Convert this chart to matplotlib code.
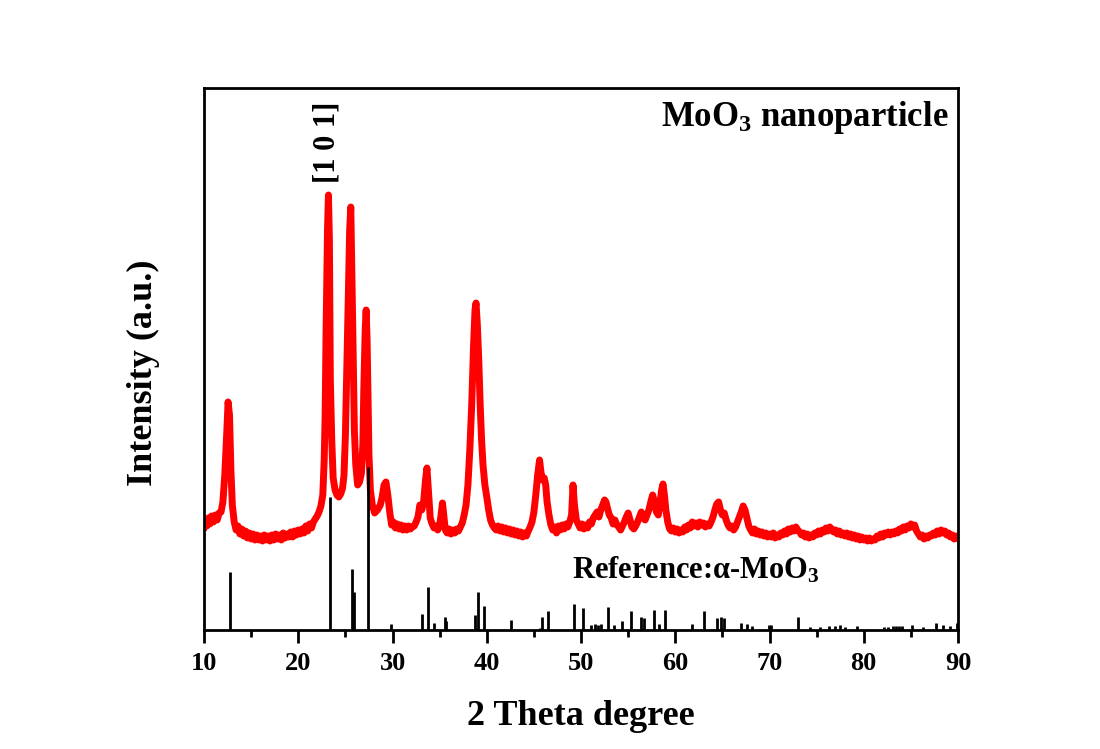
import matplotlib
matplotlib.use("Agg")
import matplotlib.pyplot as plt
from matplotlib.ticker import MultipleLocator

plt.rcParams['font.family'] = ['Liberation Serif', 'DejaVu Serif']
plt.rcParams['font.weight'] = 'bold'
plt.rcParams['mathtext.default'] = 'regular'

# measured pattern (2 theta, intensity in arbitrary units)
two_theta = [
    10.0, 10.15, 10.3, 10.45, 10.6, 10.8, 11.0, 11.2, 11.4, 11.6, 11.8, 12.0, 12.2, 12.4, 12.55, 12.7, 12.85,
    13.0, 13.2, 13.4, 13.6, 13.8, 14.0, 14.2, 14.4, 14.6, 14.8, 15.0, 15.2, 15.4, 15.6, 15.8, 16.0, 16.2,
    16.4, 16.6, 16.8, 17.0, 17.2, 17.4, 17.6, 17.8, 18.0, 18.2, 18.4, 18.6, 18.8, 19.0, 19.2, 19.4, 19.6,
    19.8, 20.0, 20.2, 20.4, 20.6, 20.8, 21.0, 21.2, 21.4, 21.6, 21.8, 22.0, 22.2, 22.4, 22.6, 22.75, 22.85,
    22.95, 23.1, 23.2, 23.3, 23.4, 23.55, 23.7, 23.9, 24.1, 24.3, 24.5, 24.7, 24.85, 25.0, 25.15, 25.3,
    25.45, 25.57, 25.7, 25.8, 25.95, 26.1, 26.3, 26.5, 26.7, 26.85, 26.95, 27.1, 27.2, 27.3, 27.4, 27.5,
    27.65, 27.85, 28.1, 28.4, 28.7, 28.9, 29.1, 29.3, 29.5, 29.7, 29.9, 30.1, 30.3, 30.5, 30.7, 30.9, 31.1,
    31.3, 31.5, 31.7, 31.9, 32.1, 32.3, 32.5, 32.7, 32.9, 33.1, 33.3, 33.5, 33.65, 33.8, 34.0, 34.2, 34.4,
    34.6, 34.8, 35.0, 35.15, 35.3, 35.45, 35.6, 35.8, 36.0, 36.2, 36.4, 36.6, 36.8, 37.0, 37.2, 37.4, 37.6,
    37.8, 38.0, 38.2, 38.4, 38.6, 38.75, 38.86, 39.0, 39.15, 39.3, 39.45, 39.6, 39.8, 40.0, 40.2, 40.4,
    40.6, 40.8, 41.0, 41.2, 41.4, 41.6, 41.8, 42.0, 42.2, 42.4, 42.6, 42.8, 43.0, 43.2, 43.4, 43.6, 43.8,
    44.0, 44.2, 44.4, 44.6, 44.8, 45.0, 45.2, 45.4, 45.6, 45.75, 45.9, 46.1, 46.25, 46.4, 46.6, 46.8, 47.0,
    47.2, 47.4, 47.6, 47.8, 48.0, 48.2, 48.4, 48.6, 48.8, 49.0, 49.15, 49.3, 49.5, 49.7, 49.9, 50.1, 50.3,
    50.5, 50.7, 50.9, 51.1, 51.3, 51.5, 51.7, 51.9, 52.1, 52.3, 52.5, 52.65, 52.8, 53.0, 53.2, 53.4, 53.6,
    53.8, 54.0, 54.2, 54.4, 54.6, 54.8, 55.0, 55.2, 55.4, 55.6, 55.8, 56.0, 56.2, 56.4, 56.6, 56.8, 57.0,
    57.2, 57.4, 57.6, 57.8, 58.0, 58.2, 58.4, 58.55, 58.7, 58.85, 59.0, 59.2, 59.4, 59.6, 59.8, 60.0, 60.2,
    60.4, 60.6, 60.8, 61.0, 61.2, 61.4, 61.6, 61.8, 62.0, 62.2, 62.4, 62.6, 62.8, 63.0, 63.2, 63.4, 63.6,
    63.8, 64.0, 64.2, 64.4, 64.6, 64.8, 65.0, 65.2, 65.4, 65.6, 65.8, 66.0, 66.2, 66.4, 66.6, 66.8, 67.0,
    67.2, 67.4, 67.6, 67.8, 68.0, 68.2, 68.4, 68.6, 68.8, 69.0, 69.2, 69.4, 69.6, 69.8, 70.0, 70.2, 70.4,
    70.6, 70.8, 71.0, 71.2, 71.4, 71.6, 71.8, 72.0, 72.2, 72.4, 72.6, 72.8, 73.0, 73.2, 73.4, 73.6, 73.8,
    74.0, 74.2, 74.4, 74.6, 74.8, 75.0, 75.2, 75.4, 75.6, 75.8, 76.0, 76.2, 76.4, 76.6, 76.8, 77.0, 77.2,
    77.4, 77.6, 77.8, 78.0, 78.2, 78.4, 78.6, 78.8, 79.0, 79.2, 79.4, 79.6, 79.8, 80.0, 80.2, 80.4, 80.6,
    80.8, 81.0, 81.2, 81.4, 81.6, 81.8, 82.0, 82.2, 82.4, 82.6, 82.8, 83.0, 83.2, 83.4, 83.6, 83.8, 84.0,
    84.2, 84.4, 84.6, 84.8, 85.0, 85.2, 85.4, 85.6, 85.8, 86.0, 86.2, 86.4, 86.6, 86.8, 87.0, 87.2, 87.4,
    87.6, 87.8, 88.0, 88.2, 88.4, 88.6, 88.8, 89.0, 89.2, 89.4, 89.6, 89.8, 90.0]
intensity = [
    103, 110, 104, 112, 106, 114, 108, 115, 110, 117, 118, 128, 155, 195, 228, 215, 160,
    125, 108, 100, 104, 96, 101, 94, 99, 92, 97, 91, 96, 90, 95, 90, 94, 89,
    95, 90, 94, 89, 95, 90, 96, 91, 95, 90, 97, 92, 96, 93, 98, 93, 99,
    95, 100, 96, 101, 97, 104, 99, 106, 102, 108, 111, 114, 118, 124, 135, 170, 215,
    300, 400, 435, 390, 250, 190, 152, 140, 135, 133, 136, 142, 155, 195, 260, 330,
    400, 423, 350, 290, 200, 165, 145, 148, 157, 185, 240, 300, 320, 290, 230, 175,
    140, 125, 117, 120, 125, 133, 145, 148, 135, 118, 105, 108, 102, 106, 101, 105, 100,
    104, 100, 104, 101, 103, 104, 108, 113, 125, 120, 128, 150, 162, 140, 112, 106, 102,
    104, 100, 105, 115, 127, 113, 100, 97, 101, 96, 100, 97, 101, 99, 103, 107, 115,
    125, 145, 180, 225, 285, 320, 327, 305, 270, 225, 190, 165, 145, 133, 120, 110,
    105, 102, 100, 104, 99, 103, 98, 102, 97, 101, 96, 100, 95, 99, 94, 98, 93,
    97, 94, 99, 103, 108, 118, 135, 155, 170, 158, 150, 152, 145, 128, 115, 105, 100,
    103, 97, 104, 100, 105, 101, 106, 103, 108, 115, 145, 125, 110, 106, 102, 106, 101,
    105, 102, 108, 106, 112, 115, 118, 113, 120, 125, 130, 128, 122, 115, 112, 106, 110,
    105, 103, 100, 104, 108, 113, 117, 110, 103, 101, 104, 108, 113, 118, 112, 110, 115,
    120, 128, 135, 128, 118, 115, 128, 140, 146, 135, 120, 108, 101, 99, 102, 98, 101,
    97, 100, 98, 103, 100, 105, 102, 108, 104, 107, 103, 108, 105, 107, 103, 106, 104,
    108, 113, 120, 126, 128, 120, 115, 117, 110, 105, 102, 104, 100, 103, 108, 113, 118,
    124, 120, 112, 104, 100, 97, 101, 96, 99, 95, 98, 94, 97, 93, 96, 93, 97,
    92, 95, 93, 97, 95, 99, 96, 101, 98, 102, 99, 103, 100, 98, 95, 97, 93,
    96, 92, 95, 93, 97, 95, 99, 96, 100, 98, 102, 99, 103, 101, 98, 100, 96,
    99, 95, 97, 94, 97, 93, 96, 92, 95, 91, 94, 90, 93, 90, 92, 89, 92,
    89, 91, 90, 94, 92, 96, 93, 97, 95, 98, 95, 98, 96, 99, 97, 101, 99,
    103, 100, 104, 102, 106, 103, 105, 99, 96, 93, 95, 91, 94, 92, 95, 94, 97,
    95, 99, 96, 100, 97, 99, 95, 97, 93, 95, 91, 94, 92]

# reference card alpha-MoO3 (stick positions and relative heights)
ref_theta = [12.8, 23.4, 25.7, 25.95, 27.35, 29.8, 33.15, 33.8, 34.45, 35.55, 35.7, 38.7, 39.1, 39.75,
             42.55, 45.6, 45.85, 46.5, 49.3, 50.25, 51.1, 51.45, 51.8, 52.15, 52.85, 53.5, 54.3, 55.35,
             56.4, 56.65, 57.75, 58.3, 58.95, 61.75, 63.05, 64.45, 64.9, 65.2, 67.0, 67.6, 68.1, 69.9,
             70.2, 73.05, 74.3, 75.4, 76.3, 77.0, 77.5, 78.0, 79.25, 82.2, 82.6, 83.1, 83.4, 83.7, 84.1,
             85.1, 86.3, 87.7, 88.4, 89.2, 89.9]
ref_int = [58, 133, 61, 38, 163, 6, 16, 43, 7, 13, 9, 15, 38, 24,
           10, 2, 13, 19, 26, 22, 5, 6, 5, 6, 23, 5, 9, 19,
           13, 12, 20, 6, 20, 6, 19, 12, 13, 12, 7, 6, 4, 5,
           5, 13, 3, 3, 4, 4, 5, 3, 4, 3, 3, 4, 4, 4, 4,
           5, 3, 7, 5, 4, 7]

fig = plt.figure(figsize=(11, 7.49), dpi=100)
ax = fig.add_axes([0.1855, 0.1589, 0.6854, 0.7236])

ax.plot(two_theta, intensity, color='#ff0000', lw=5.0, solid_joinstyle='round', zorder=2)
ax.vlines(ref_theta, 0, ref_int, color='black', lw=2.0, zorder=3)

ax.set_xlim(10, 90)
ax.set_ylim(0, 542)
ax.xaxis.set_major_locator(MultipleLocator(10))
ax.xaxis.set_minor_locator(MultipleLocator(5))
ax.set_yticks([])
ax.tick_params(axis='x', which='major', direction='out', length=9, width=2, labelsize=19, pad=7)
ax.tick_params(axis='x', which='minor', direction='out', length=5, width=2)
for s in ax.spines.values():
    s.set_linewidth(2)
for lab in ax.get_xticklabels():
    lab.set_fontweight('bold')

ax.set_xlabel("2 Theta degree", fontsize=26, fontweight='bold', labelpad=18)
ax.set_ylabel("Intensity (a.u.)", fontsize=26, fontweight='bold')
ax.yaxis.set_label_coords(-0.059, 0.475)

ax.text(0.987, 0.945, "MoO$_3$ nanoparticle", transform=ax.transAxes, ha='right', va='center',
        fontsize=25, fontweight='bold')
ax.text(0.488, 0.11, "Reference:α-MoO$_3$", transform=ax.transAxes, ha='left', va='center',
        fontsize=22, fontweight='bold')
ax.text(0.163, 0.899, "[1 0 1]", transform=ax.transAxes, ha='center', va='center', rotation=90,
        fontsize=22, fontweight='bold')

fig.savefig("out.png", dpi=100)
